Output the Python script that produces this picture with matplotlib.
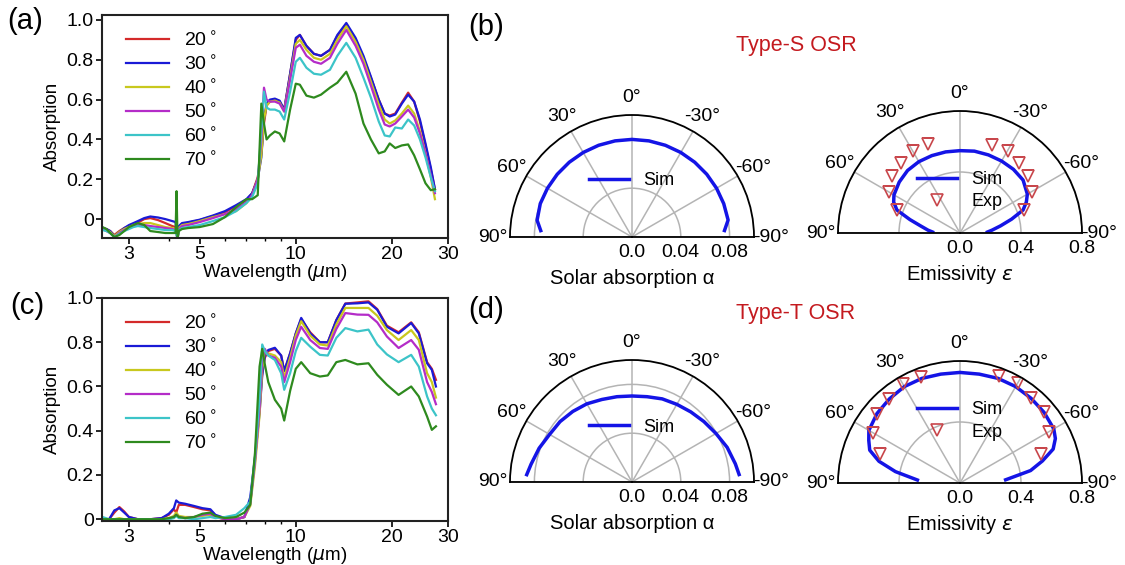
import numpy as np
import matplotlib
matplotlib.use('Agg')
import matplotlib.pyplot as plt
from matplotlib.lines import Line2D

plt.rcParams['font.family'] = ['Liberation Sans', 'DejaVu Sans']
plt.rcParams['mathtext.fontset'] = 'dejavusans'

W, H = 1125, 565

# ---------------- spectral data ----------------
angle_labels = ['20$^\\circ$', '30$^\\circ$', '40$^\\circ$', '50$^\\circ$', '60$^\\circ$', '70$^\\circ$']
line_colors = ['#d42a2a', '#1a1ad6', '#c8c81e', '#b42cc8', '#3cc4c8', '#2e8a1e']

wl_a = [2.48, 2.55, 2.62, 2.70, 2.80, 2.90, 3.0, 3.1, 3.2, 3.35, 3.5, 3.7, 3.9, 4.1, 4.2, 4.23,
        4.26, 4.3, 4.4, 4.6, 5.0, 5.5, 6.0, 6.5, 7.0, 7.3, 7.6, 7.8, 7.95, 8.1, 8.3, 8.6, 8.9,
        9.2, 9.6, 10.0, 10.3, 10.8, 11.4, 12.0, 12.8, 13.5, 14.4, 15.4, 16.3, 17.2, 18.2, 19.0,
        19.7, 20.5, 21.5, 22.5, 23.5, 24.5, 25.5, 26.5, 27.3]

a_20 = [-0.045, -0.05, -0.06, -0.08, -0.06, -0.045, -0.035, -0.025, -0.018, 0.0, 0.005, -0.005,
        -0.02, -0.035, -0.04, -0.07, -0.10, -0.04, -0.025, -0.018, -0.005, 0.015, 0.035, 0.065,
        0.095, 0.13, 0.21, 0.33, 0.48, 0.57, 0.59, 0.60, 0.59, 0.55, 0.73, 0.90, 0.925, 0.87,
        0.83, 0.82, 0.85, 0.92, 0.98, 0.90, 0.81, 0.71, 0.60, 0.53, 0.52, 0.53, 0.585, 0.635,
        0.59, 0.49, 0.37, 0.25, 0.15]
a_30 = [-0.045, -0.05, -0.06, -0.085, -0.065, -0.045, -0.03, -0.02, -0.01, 0.005, 0.013, 0.008,
        0.0, -0.01, -0.015, -0.06, -0.10, -0.035, -0.02, -0.015, -0.003, 0.018, 0.04, 0.07,
        0.10, 0.13, 0.20, 0.31, 0.50, 0.58, 0.60, 0.605, 0.595, 0.55, 0.73, 0.91, 0.925, 0.87,
        0.83, 0.82, 0.85, 0.925, 0.985, 0.91, 0.82, 0.715, 0.60, 0.53, 0.515, 0.525, 0.58,
        0.625, 0.59, 0.50, 0.38, 0.26, 0.15]
a_40 = [-0.05, -0.055, -0.065, -0.085, -0.065, -0.05, -0.04, -0.03, -0.025, -0.02, -0.02, -0.03,
        -0.04, -0.045, -0.05, -0.07, -0.10, -0.045, -0.03, -0.025, -0.01, 0.01, 0.025, 0.04,
        0.08, 0.12, 0.20, 0.32, 0.50, 0.57, 0.59, 0.595, 0.585, 0.54, 0.71, 0.88, 0.90, 0.85,
        0.81, 0.80, 0.83, 0.90, 0.968, 0.89, 0.80, 0.69, 0.575, 0.50, 0.48, 0.495, 0.53, 0.57,
        0.53, 0.44, 0.33, 0.21, 0.10]
a_50 = [-0.05, -0.06, -0.07, -0.09, -0.07, -0.055, -0.045, -0.035, -0.03, -0.03, -0.035, -0.04,
        -0.045, -0.05, -0.055, -0.075, -0.10, -0.05, -0.035, -0.03, -0.015, 0.005, 0.025, 0.05,
        0.085, 0.12, 0.20, 0.40, 0.66, 0.60, 0.59, 0.59, 0.58, 0.54, 0.70, 0.86, 0.876, 0.82,
        0.79, 0.78, 0.81, 0.88, 0.95, 0.87, 0.78, 0.67, 0.55, 0.475, 0.465, 0.48, 0.515, 0.55,
        0.51, 0.43, 0.33, 0.22, 0.13]
a_60 = [-0.055, -0.06, -0.07, -0.09, -0.075, -0.06, -0.05, -0.04, -0.035, -0.04, -0.045, -0.05,
        -0.055, -0.055, -0.06, -0.08, -0.10, -0.055, -0.045, -0.04, -0.03, -0.01, 0.01, 0.04,
        0.08, 0.11, 0.18, 0.45, 0.64, 0.56, 0.55, 0.55, 0.54, 0.50, 0.64, 0.79, 0.81, 0.76,
        0.73, 0.725, 0.75, 0.82, 0.885, 0.81, 0.71, 0.61, 0.49, 0.42, 0.415, 0.46, 0.455, 0.50,
        0.47, 0.40, 0.31, 0.21, 0.14]
a_70 = [-0.04, -0.05, -0.07, -0.09, -0.08, -0.06, -0.04, -0.03, -0.02, -0.03, -0.06, -0.065,
        -0.07, -0.07, -0.07, 0.14, -0.10, -0.06, -0.05, -0.045, -0.04, -0.025, 0.01, 0.06,
        0.10, 0.10, 0.12, 0.58, 0.48, 0.40, 0.42, 0.44, 0.43, 0.39, 0.55, 0.68, 0.675, 0.62,
        0.61, 0.625, 0.66, 0.685, 0.74, 0.63, 0.48, 0.40, 0.33, 0.34, 0.38, 0.357, 0.37, 0.375,
        0.32, 0.25, 0.18, 0.145, 0.15]

wl_c = [2.48, 2.6, 2.7, 2.8, 2.9, 3.0, 3.2, 3.5, 3.8, 4.0, 4.15, 4.22, 4.3, 4.5, 4.8, 5.1, 5.4,
        5.6, 6.0, 6.5, 6.9, 7.2, 7.45, 7.7, 7.85, 8.0, 8.2, 8.6, 9.0, 9.2, 9.6, 10.0, 10.4, 11.1,
        11.9, 12.6, 13.4, 14.3, 15.6, 16.9, 18.0, 19.3, 21.0, 23.0, 24.3, 25.8, 26.7, 27.5]

c_20 = [0.0, 0.0, 0.03, 0.055, 0.035, 0.01, 0.0, 0.0, 0.005, 0.02, 0.045, 0.03, 0.065, 0.065,
        0.055, 0.045, 0.04, 0.015, 0.0, 0.0, 0.01, 0.08, 0.27, 0.50, 0.66, 0.73, 0.76, 0.77,
        0.74, 0.67, 0.75, 0.84, 0.905, 0.845, 0.80, 0.80, 0.90, 0.975, 0.98, 0.985, 0.95, 0.875,
        0.845, 0.89, 0.845, 0.71, 0.68, 0.63]
c_30 = [0.0, 0.0, 0.04, 0.05, 0.03, 0.01, 0.0, 0.0, 0.005, 0.025, 0.05, 0.085, 0.075, 0.07,
        0.06, 0.05, 0.045, 0.02, 0.005, 0.0, 0.01, 0.10, 0.28, 0.48, 0.65, 0.74, 0.765, 0.775,
        0.74, 0.67, 0.75, 0.84, 0.91, 0.84, 0.80, 0.80, 0.90, 0.974, 0.976, 0.98, 0.947, 0.87,
        0.84, 0.887, 0.84, 0.705, 0.675, 0.60]
c_40 = [0.0, 0.0, 0.0, 0.005, 0.0, 0.0, 0.0, 0.0, 0.0, 0.005, 0.015, 0.03, 0.015, 0.01, 0.01,
        0.015, 0.02, 0.01, 0.0, 0.0, 0.01, 0.06, 0.24, 0.47, 0.68, 0.76, 0.75, 0.74, 0.71, 0.64,
        0.73, 0.83, 0.895, 0.83, 0.79, 0.785, 0.88, 0.955, 0.955, 0.955, 0.92, 0.855, 0.81,
        0.855, 0.81, 0.66, 0.62, 0.55]
c_50 = [0.0, 0.0, 0.0, 0.0, 0.0, 0.0, 0.0, 0.0, 0.0, 0.0, 0.01, 0.02, 0.01, 0.005, 0.01, 0.02,
        0.025, 0.01, 0.0, 0.0, 0.01, 0.07, 0.26, 0.50, 0.72, 0.77, 0.74, 0.73, 0.69, 0.62, 0.71,
        0.81, 0.87, 0.81, 0.774, 0.77, 0.86, 0.932, 0.925, 0.924, 0.89, 0.826, 0.774, 0.81,
        0.766, 0.62, 0.575, 0.52]
c_60 = [0.01, 0.0, 0.0, 0.0, 0.0, 0.0, 0.0, 0.0, 0.0, 0.0, 0.005, 0.015, 0.005, 0.005, 0.0,
        0.005, 0.01, 0.005, 0.01, 0.02, 0.05, 0.08, 0.28, 0.55, 0.79, 0.76, 0.74, 0.72, 0.66,
        0.585, 0.66, 0.76, 0.82, 0.78, 0.743, 0.74, 0.82, 0.864, 0.849, 0.857, 0.79, 0.745,
        0.71, 0.743, 0.69, 0.555, 0.50, 0.47]
c_70 = [0.0, 0.0, 0.0, 0.0, 0.0, 0.0, 0.0, 0.0, 0.0, 0.005, 0.01, 0.02, 0.01, 0.005, 0.01,
        0.025, 0.03, 0.015, 0.005, 0.01, 0.03, 0.065, 0.30, 0.69, 0.77, 0.70, 0.62, 0.54, 0.50,
        0.446, 0.58, 0.68, 0.71, 0.66, 0.645, 0.65, 0.71, 0.72, 0.70, 0.705, 0.653, 0.608,
        0.562, 0.60, 0.555, 0.464, 0.404, 0.42]

# ---------------- angular data ----------------
ang_sol = [-86, -80, -70, -60, -50, -40, -30, -20, -10, 0, 10, 20, 30, 40, 50, 60, 70, 80, 86]
sol_S = [0.076, 0.080, 0.080, 0.080, 0.080, 0.080, 0.080, 0.080, 0.080, 0.080, 0.080, 0.080,
         0.080, 0.080, 0.080, 0.080, 0.080, 0.079, 0.075]
sol_T = [0.088, 0.086, 0.083, 0.0795, 0.077, 0.075, 0.0735, 0.0725, 0.071, 0.0705, 0.071, 0.072,
         0.074, 0.0755, 0.077, 0.078, 0.081, 0.084, 0.0865]

ang_emi_S = [-88, -85, -80, -75, -70, -65, -60, -50, -40, -30, -20, -10, 0, 10, 20, 30, 40,
             50, 60, 65, 70, 75, 80, 85, 88]
emi_S = [0.18, 0.21, 0.27, 0.35, 0.44, 0.48, 0.51, 0.54, 0.545, 0.545, 0.545, 0.545, 0.54,
         0.54, 0.54, 0.54, 0.535, 0.52, 0.50, 0.48, 0.44, 0.34, 0.26, 0.21, 0.18]
ang_emi_T = [-86, -80, -75, -70, -65, -60, -50, -40, -30, -20, -10, 0, 10, 20, 30, 40, 50, 60,
             65, 70, 75, 80, 86]
emi_T = [0.30, 0.47, 0.56, 0.65, 0.69, 0.71, 0.72, 0.725, 0.73, 0.73, 0.725, 0.725, 0.725, 0.73,
         0.73, 0.72, 0.71, 0.69, 0.66, 0.63, 0.55, 0.43, 0.28]

ang_exp = [-70, -60, -50, -40, -30, -20, 20, 30, 40, 50, 60, 70]
exp_S = [0.445, 0.543, 0.582, 0.602, 0.624, 0.614, 0.618, 0.621, 0.600, 0.583, 0.539, 0.443]
exp_T = [0.565, 0.674, 0.721, 0.729, 0.756, 0.749, 0.741, 0.753, 0.722, 0.708, 0.657, 0.555]

fig = plt.figure(figsize=(W / 100, H / 100), dpi=100)


def px_rect(x0, y0, x1, y1):
    return [x0 / W, (H - y1) / H, (x1 - x0) / W, (y1 - y0) / H]


def spectrum_panel(rect, wl, curves, ylim):
    ax = fig.add_axes(rect)
    for vals, col, lab in zip(curves, line_colors, angle_labels):
        ax.plot(wl, vals, color=col, lw=1.6, label=lab)
    ax.set_xscale('log')
    ax.set_xlim(2.47, 30)
    ax.set_ylim(*ylim)
    ax.set_xticks([3, 5, 10, 20, 30])
    ax.set_xticklabels(['3', '5', '10', '20', '30'])
    ax.set_xticks([4, 6, 7, 8, 9], minor=True)
    ax.xaxis.set_minor_formatter(plt.NullFormatter())
    ax.set_yticks([0, 0.2, 0.4, 0.6, 0.8, 1.0])
    ax.set_yticklabels(['0', '0.2', '0.4', '0.6', '0.8', '1.0'])
    ax.tick_params(labelsize=14, length=4, width=1.2, pad=2)
    ax.tick_params(which='minor', length=2.5, width=1)
    for s in ax.spines.values():
        s.set_linewidth(1.5)
        s.set_color('#222222')
    ax.set_xlabel('Wavelength ($\\mu$m)', fontsize=13.5, labelpad=-1)
    ax.set_ylabel('Absorption', fontsize=13.5, labelpad=4)
    ax.legend(loc='upper left', bbox_to_anchor=(0.03, 0.99), frameon=False, fontsize=14,
              handlelength=2.2, handletextpad=0.8, labelspacing=0.25, borderpad=0.2)
    return ax


spectrum_panel(px_rect(102, 15, 448, 238), wl_a, [a_20, a_30, a_40, a_50, a_60, a_70],
               (-0.095, 1.025))
spectrum_panel(px_rect(102, 298, 448, 521), wl_c, [c_20, c_30, c_40, c_50, c_60, c_70],
               (-0.008, 1.0))

R = 122


def polar_panel(cx, cy, rmax, rticks, rlabels, ang, sim, xlabel, leg_y,
                ang_e=None, exp_vals=None):
    rect = [(cx - R) / W, (H - cy - R / 2) / H, 2 * R / W, 2 * R / H]
    ax = fig.add_axes(rect, projection='polar')
    ax.set_theta_zero_location('N')
    ax.set_theta_direction(1)
    ax.set_thetamin(-90)
    ax.set_thetamax(90)
    ax.set_rlim(0, rmax)
    ax.set_rticks(rticks)
    ax.set_yticklabels(rlabels)
    tg = [-90, -60, -30, 0, 30, 60, 90]
    ax.set_thetagrids(tg, labels=['-90°', '-60°', '-30°', '0°', '30°', '60°', '90°'])
    ax.grid(True, color='#b4b4b4', lw=1.1)
    ax.tick_params(labelsize=14)
    ax.tick_params(axis='x', pad=2)
    ax.tick_params(axis='y', length=0, pad=5)
    for s in ax.spines.values():
        s.set_linewidth(1.3)
        s.set_color('black')
    ax.plot(np.radians(ang), sim, color='#1414e6', lw=2.5, label='Sim')
    handles = [Line2D([], [], color='#1414e6', lw=2.5)]
    labels = ['Sim']
    if ang_e is not None:
        ax.plot(np.radians(ang_e), exp_vals, ls='none', marker='v', ms=8.5,
                mfc='none', mec='#c8464b', mew=1.2)
        handles.append(Line2D([], [], ls='none', marker='v', ms=8.5, mfc='none',
                              mec='#c8464b', mew=1.2))
        labels.append('Exp')
    ax.legend(handles, labels, loc='center', bbox_to_anchor=(0.5, leg_y), frameon=False,
              fontsize=13, handlelength=2.2, handletextpad=0.8, labelspacing=0.3,
              borderpad=0.1)
    ax.text(0.5, 0.08, xlabel, transform=ax.transAxes, ha='center', va='center',
            fontsize=14.5)
    return ax


polar_panel(632, 237, 0.1, [0, 0.04, 0.08], ['0.0', '0.04', '0.08'], ang_sol, sol_S,
            'Solar absorption α', 0.48)
polar_panel(960, 233, 0.8, [0, 0.4, 0.8], ['0.0', '0.4', '0.8'], ang_emi_S, emi_S,
            'Emissivity $\\varepsilon$', 0.424, ang_exp, exp_S)
polar_panel(632, 482, 0.1, [0, 0.04, 0.08], ['0.0', '0.04', '0.08'], ang_sol, sol_T,
            'Solar absorption α', 0.475)
polar_panel(960, 483, 0.8, [0, 0.4, 0.8], ['0.0', '0.4', '0.8'], ang_emi_T, emi_T,
            'Emissivity $\\varepsilon$', 0.504, ang_exp, exp_T)

# panel letters and titles
for txt, x, y in [('(a)', 25, 21), ('(c)', 27, 306), ('(b)', 486, 27), ('(d)', 486, 310)]:
    fig.text(x / W, 1 - y / H, txt, fontsize=21, ha='center', va='center')
fig.text(796 / W, 1 - 46 / H, 'Type-S OSR', color='#c41a1f', fontsize=15.5,
         ha='center', va='center')
fig.text(796 / W, 1 - 313 / H, 'Type-T OSR', color='#c41a1f', fontsize=15.5,
         ha='center', va='center')

fig.savefig('out.png', dpi=100)
